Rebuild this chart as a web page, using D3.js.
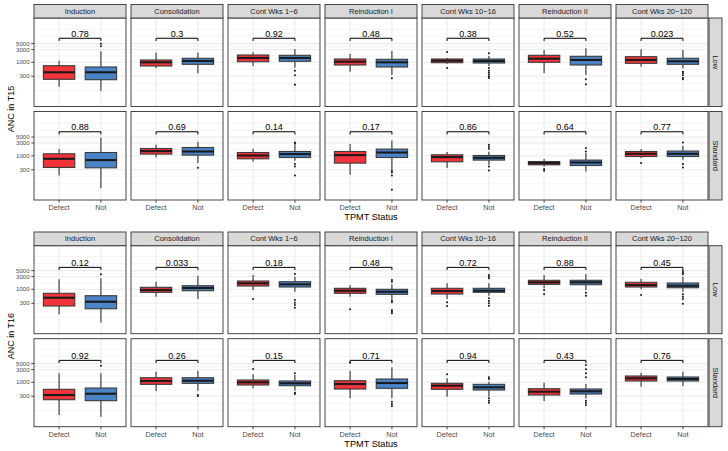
<!DOCTYPE html>
<html><head><meta charset="utf-8">
<script src="https://cdn.jsdelivr.net/npm/d3@7"></script>
<style>body{margin:0;background:#fff} svg{display:block}</style>
</head><body><svg id="c" width="728" height="451"></svg>
<script>
// ---------------- data ----------------
const stages = ["Induction","Consolidation","Cont Wks 1\u22126","Reinduction I","Cont Wks 10\u221216","Reinduction II","Cont Wks 20\u2212120"];
const risks = ["Low","Standard"];
const groups = ["Defect","Not"];
const yTicks = [300,1000,3000,5000];
const yTickLabels = ["300","1000","3000","5000"];

// five-number summaries [lower whisker, q1, median, q3, upper whisker] per stage
const t15LowDefect = [[123,232,424,746,1150],[597,728,1000,1220,2285],[728,1054,1450,1875,2365],[445,793,1054,1328,2043],[880,966,1147,1328,1450],[396,1000,1365,1828,2884],[686,918,1220,1620,3060]];
const t15LowNot = [[85,224,424,668,2600],[388,842,1120,1412,2285],[628,1091,1450,1828,3140],[336,668,1000,1294,2643],[728,942,1120,1328,1720],[336,793,1220,1675,3333],[597,842,1091,1412,2884]];
const t15StdDefect = [[184,366,773,1188,1777],[865,1158,1500,1875,2576],[597,773,1026,1328,1828],[195,533,1062,1450,2735],[348,597,895,1091,1375],[398,461,533,612,753],[820,942,1188,1450,1777]];
const t15StdNot = [[62,356,692,1328,4830],[533,1062,1450,2043,3333],[650,865,1158,1450,2735],[300,865,1328,1777,3730],[461,692,842,1026,1412],[259,434,562,692,1262],[710,942,1188,1500,2365]];
const t16LowDefect = [[116,238,486,709,2365],[529,773,942,1188,1923],[942,1328,1675,2042,3420],[529,709,887,1090,1448],[434,667,863,1090,1675],[1090,1538,1825,2168,3420],[1000,1219,1448,1825,2427]];
const t16LowNot = [[58,188,344,577,2576],[434,887,1119,1362,3221],[813,1219,1538,1923,2958],[398,650,813,1000,1538],[577,773,887,1090,1675],[942,1486,1825,2168,3733],[813,1147,1362,1718,2958]];
const t16StdDefect = [[60,224,336,548,2168],[473,841,1119,1486,2490],[597,793,1000,1219,1991],[252,562,864,1147,2712],[290,548,747,918,1410],[200,336,446,577,966],[685,1119,1410,1718,2284]];
const t16StdNot = [[52,206,375,612,2168],[486,918,1147,1486,2712],[486,747,918,1119,1874],[252,597,942,1328,3630],[290,515,650,841,1053],[252,365,461,562,864],[728,1119,1328,1578,2490]];

// outliers per stage
const t15LowDefectOut = [[],[],[],[],[2427,612],[],[]];
const t15LowNotOut = [[3960,4950],[],[485,327,146],[253],[2170,612,484,407,343,289,258],[232,150],[445,388,327,258,232]];
const t15StdDefectOut = [[],[],[],[],[],[318,275],[533]];
const t15StdNotOut = [[],[356],[3140,2930,490,398,184],[275,238,184,54],[2576,2170,1828,398,282],[1940,1450],[3140,490,366]];
const t16LowDefectOut = [[],[],[434],[179],[327,238],[942,650],[612]];
const t16LowNotOut = [[3630],[],[3733,398,316,259,206],[2222,1923,365,327,169,146,127],[3420,2958,2576,461,365,300,244],[747,577],[4830,4170,3630,650,529,434,290]];
const t16StdDefectOut = [[],[],[3140],[5400],[1991],[],[]];
const t16StdNotOut = [[4170],[336,308],[2168,409,365],[188,155,130],[1538,1328,252,206,173],[4430,3060,2168,1538,206,173,142],[]];

// p-values
const t15LowP = ["0.78","0.3","0.92","0.48","0.38","0.52","0.023"];
const t15StdP = ["0.88","0.69","0.14","0.17","0.86","0.64","0.77"];
const t16LowP = ["0.12","0.033","0.18","0.48","0.72","0.88","0.45"];
const t16StdP = ["0.92","0.26","0.15","0.71","0.94","0.43","0.76"];

// ---------------- drawing ----------------
const FONT = "'Liberation Sans', Arial, Helvetica, sans-serif";
const fills = {Defect:"#F2333A", Not:"#4A83C6"};
const svg = d3.select("#c");
svg.append("rect").attr("width",728).attr("height",451).attr("fill","#fff");

const plots = [
  {title:"ANC in T15", stripTop:4.5, panelTop:18, panelH:88.5, gap:5, yDomain:[Math.pow(10,1.349),Math.pow(10,4.655)], bracket:7900,
   stats:{Low:{Defect:t15LowDefect,Not:t15LowNot},Standard:{Defect:t15StdDefect,Not:t15StdNot}},
   outs:{Low:{Defect:t15LowDefectOut,Not:t15LowNotOut},Standard:{Defect:t15StdDefectOut,Not:t15StdNotOut}},
   pv:{Low:t15LowP,Standard:t15StdP}},
  {title:"ANC in T16", stripTop:232, panelTop:245.7, panelH:88, gap:5, yDomain:[Math.pow(10,1.342),Math.pow(10,4.629)], bracket:6600,
   stats:{Low:{Defect:t16LowDefect,Not:t16LowNot},Standard:{Defect:t16StdDefect,Not:t16StdNot}},
   outs:{Low:{Defect:t16LowDefectOut,Not:t16LowNotOut},Standard:{Defect:t16StdDefectOut,Not:t16StdNotOut}},
   pv:{Low:t16LowP,Standard:t16StdP}}
];

const x0 = d3.scaleBand().domain(stages).range([34,708]).paddingInner(5/97).paddingOuter(0);
const xg = d3.scalePoint().domain(groups).range([0,x0.bandwidth()]).padding(0.6);
const boxW = xg.step()*0.75;

// minor breaks (ggplot style: midpoints in log space, one extension step)
const lt = yTicks.map(Math.log10);
const bd = lt[1]-lt[0];
const ext = [lt[0]-bd, ...lt, lt[lt.length-1]+bd];
let minorLog = [];
for (let i=0;i<ext.length-1;i++){ minorLog.push(ext[i], (ext[i]+ext[i+1])/2); }
minorLog.push(ext[ext.length-1]);
const minorVals = minorLog.filter(v => !lt.some(m => Math.abs(m-v)<1e-6)).map(v => Math.pow(10,v));

plots.forEach(p => {
  const G = svg.append("g");
  const rowsBottom = p.panelTop + 2*p.panelH + p.gap;
  risks.forEach((risk, ri) => {
    const top = p.panelTop + ri*(p.panelH+p.gap);
    const y = d3.scaleLog().domain(p.yDomain).range([top+p.panelH, top]);
    stages.forEach((st, si) => {
      const left = x0(st), w = x0.bandwidth();
      const g = G.append("g").attr("transform",`translate(${left},0)`);
      g.append("rect").attr("x",0).attr("y",top).attr("width",w).attr("height",p.panelH).attr("fill","#fff");
      // grid
      minorVals.filter(v => v>p.yDomain[0] && v<p.yDomain[1]).forEach(v => {
        g.append("line").attr("x1",0).attr("x2",w).attr("y1",y(v)).attr("y2",y(v)).attr("stroke","#EBEBEB").attr("stroke-width",0.55);
      });
      yTicks.forEach(v => {
        g.append("line").attr("x1",0).attr("x2",w).attr("y1",y(v)).attr("y2",y(v)).attr("stroke","#EBEBEB").attr("stroke-width",1.1);
      });
      groups.forEach(gr => {
        g.append("line").attr("x1",xg(gr)).attr("x2",xg(gr)).attr("y1",top).attr("y2",top+p.panelH).attr("stroke","#EBEBEB").attr("stroke-width",1.1);
      });
      // boxes
      groups.forEach(gr => {
        const s = p.stats[risk][gr][si];
        const cx = xg(gr);
        g.append("line").attr("x1",cx).attr("x2",cx).attr("y1",y(s[4])).attr("y2",y(s[3])).attr("stroke","#333").attr("stroke-width",1.1);
        g.append("line").attr("x1",cx).attr("x2",cx).attr("y1",y(s[1])).attr("y2",y(s[0])).attr("stroke","#333").attr("stroke-width",1.1);
        g.append("rect").attr("x",cx-boxW/2).attr("y",y(s[3])).attr("width",boxW).attr("height",y(s[1])-y(s[3]))
          .attr("fill",fills[gr]).attr("stroke","#3a3a3a").attr("stroke-width",1.1);
        g.append("line").attr("x1",cx-boxW/2).attr("x2",cx+boxW/2).attr("y1",y(s[2])).attr("y2",y(s[2])).attr("stroke","#1a1a1a").attr("stroke-width",2.1);
        p.outs[risk][gr][si].forEach(o => {
          g.append("circle").attr("cx",cx).attr("cy",y(o)).attr("r",1.05).attr("fill","#1a1a1a");
        });
      });
      // bracket
      const by = y(p.bracket), tip = 0.03*p.panelH;
      const xa = xg("Defect"), xb = xg("Not");
      g.append("path").attr("d",`M${xa},${by+tip}V${by}H${xb}V${by+tip}`).attr("fill","none").attr("stroke","#000").attr("stroke-width",1);
      g.append("text").attr("x",(xa+xb)/2).attr("y",by-1.3).attr("text-anchor","middle")
        .attr("font-family",FONT).attr("font-size",9).attr("fill","#000").text(p.pv[risk][si]);
      // border
      g.append("rect").attr("x",0).attr("y",top).attr("width",w).attr("height",p.panelH).attr("fill","none").attr("stroke","#333").attr("stroke-width",0.9);
      // x axis
      if (ri===1) {
        groups.forEach(gr => {
          g.append("line").attr("x1",xg(gr)).attr("x2",xg(gr)).attr("y1",top+p.panelH).attr("y2",top+p.panelH+2.7).attr("stroke","#333").attr("stroke-width",0.9);
          g.append("text").attr("x",xg(gr)).attr("y",top+p.panelH+10.2).attr("text-anchor","middle")
            .attr("font-family",FONT).attr("font-size",7.3).attr("fill","#4D4D4D").text(gr);
        });
      }
      // y axis
      if (si===0) {
        yTicks.forEach((v,k) => {
          g.append("line").attr("x1",-2.7).attr("x2",0).attr("y1",y(v)).attr("y2",y(v)).attr("stroke","#333").attr("stroke-width",0.9);
          g.append("text").attr("x",-4.3).attr("y",y(v)).attr("dy","0.35em").attr("text-anchor","end")
            .attr("font-family",FONT).attr("font-size",6.2).attr("fill","#4D4D4D").text(yTickLabels[k]);
        });
      }
      // top strips
      if (ri===0) {
        g.append("rect").attr("x",0).attr("y",p.stripTop).attr("width",w).attr("height",p.panelTop-p.stripTop)
          .attr("fill","#D9D9D9").attr("stroke","#333").attr("stroke-width",0.9);
        g.append("text").attr("x",w/2).attr("y",(p.stripTop+p.panelTop)/2).attr("dy","0.35em").attr("text-anchor","middle")
          .attr("font-family",FONT).attr("font-size",7.5).attr("fill","#1A1A1A").text(st);
      }
    });
    // right strip
    G.append("rect").attr("x",709).attr("y",top).attr("width",13).attr("height",p.panelH)
      .attr("fill","#D9D9D9").attr("stroke","#333").attr("stroke-width",0.9);
    G.append("text").attr("transform",`translate(${715.5},${top+p.panelH/2}) rotate(90)`).attr("dy","0.35em").attr("text-anchor","middle")
      .attr("font-family",FONT).attr("font-size",7.5).attr("fill","#1A1A1A").text(risk);
  });
  // titles
  G.append("text").attr("x",(34+708)/2).attr("y",rowsBottom+20).attr("text-anchor","middle")
    .attr("font-family",FONT).attr("font-size",9.2).attr("fill","#000").text("TPMT Status");
  G.append("text").attr("transform",`translate(13.5,${(p.panelTop+rowsBottom)/2}) rotate(-90)`).attr("text-anchor","middle")
    .attr("font-family",FONT).attr("font-size",9).attr("fill","#000").text(p.title);
});
</script></body></html>
